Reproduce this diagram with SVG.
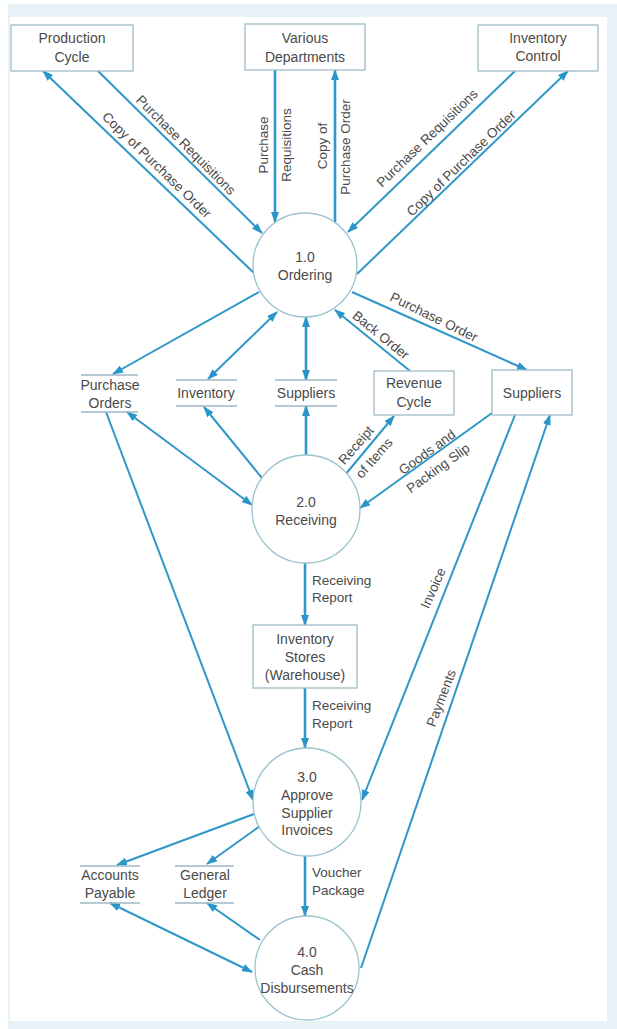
<svg xmlns="http://www.w3.org/2000/svg" width="617" height="1029" viewBox="0 0 617 1029">
<style>
text{font-family:"Liberation Sans","DejaVu Sans",sans-serif;font-size:14px;fill:#4a4a4a;text-anchor:middle}
.lbl{font-size:13.5px}
.st{text-anchor:start}
.box{fill:#fff;stroke:#9fbcc8;stroke-width:1.3}
.circ{fill:#fff;stroke:#9cc3cf;stroke-width:1.3}
.ds{stroke:#9fb8c4;stroke-width:1.3}
.c{stroke:#2f97c8;stroke-width:2;fill:none;marker-end:url(#ah)}
.v{stroke-width:2.6}
.b{marker-start:url(#ah)}
</style>
<defs>
<marker id="ah" markerUnits="userSpaceOnUse" markerWidth="11" markerHeight="8" refX="10" refY="4" orient="auto-start-reverse">
<path d="M0,0 L11,4 L0,8 z" fill="#2a95c8"/>
</marker>
</defs>
<rect x="8" y="4" width="609" height="1025" fill="#e8f3f8"/>
<rect x="10" y="17" width="597" height="1004" fill="#fff"/>

<g id="connectors">
<line class="c" x1="97" y1="70" x2="262" y2="233"/>
<line class="c" x1="255" y1="274" x2="43" y2="71"/>
<line class="c v" x1="275" y1="70" x2="275" y2="222"/>
<line class="c v" x1="335" y1="222" x2="335" y2="70"/>
<line class="c" x1="515" y1="71" x2="348" y2="232"/>
<line class="c" x1="357" y1="274" x2="568" y2="71"/>
<line class="c" x1="352" y1="292" x2="527" y2="370"/>
<line class="c" x1="410" y1="371" x2="335" y2="310"/>
<line class="c" x1="259" y1="292" x2="113" y2="374"/>
<line class="c b" x1="277" y1="312" x2="208" y2="379"/>
<line class="c v b" x1="306" y1="317" x2="306" y2="380"/>
<line class="c b" x1="127" y1="412" x2="252" y2="505"/>
<line class="c" x1="262" y1="478" x2="204" y2="407"/>
<line class="c v" x1="306" y1="455" x2="306" y2="406"/>
<line class="c" x1="345" y1="475" x2="394" y2="416"/>
<line class="c" x1="492" y1="413" x2="360" y2="508"/>
<line class="c v" x1="305" y1="563" x2="305" y2="625"/>
<line class="c v" x1="305" y1="688" x2="305" y2="748"/>
<line class="c" x1="106" y1="412" x2="253" y2="800"/>
<line class="c" x1="515" y1="415" x2="362" y2="800"/>
<line class="c" x1="361" y1="968" x2="550" y2="415"/>
<line class="c v" x1="305" y1="856" x2="305" y2="916"/>
<line class="c" x1="254" y1="814" x2="117" y2="865"/>
<line class="c" x1="260" y1="826" x2="207" y2="864"/>
<line class="c" x1="260" y1="940" x2="207" y2="903"/>
<line class="c b" x1="110" y1="903" x2="252" y2="972"/>
</g>

<g id="labels">
<text class="lbl" transform="translate(186,145) rotate(45)" dy="0.35em">Purchase Requisitions</text>
<text class="lbl" transform="translate(157,165) rotate(44)" dy="0.35em">Copy of Purchase Order</text>
<text class="lbl" transform="translate(263,145) rotate(-90)" dy="0.35em">Purchase</text>
<text class="lbl" transform="translate(286,145) rotate(-90)" dy="0.35em">Requisitions</text>
<text class="lbl" transform="translate(322,146) rotate(-90)" dy="0.35em">Copy of</text>
<text class="lbl" transform="translate(345,147) rotate(-90)" dy="0.35em">Purchase Order</text>
<text class="lbl" transform="translate(427,138) rotate(-44)" dy="0.35em">Purchase Requisitions</text>
<text class="lbl" transform="translate(461,163) rotate(-44)" dy="0.35em">Copy of Purchase Order</text>
<text class="lbl" transform="translate(434,317) rotate(26)" dy="0.35em">Purchase Order</text>
<text class="lbl" transform="translate(381,335) rotate(39)" dy="0.35em">Back Order</text>
<text class="lbl" transform="translate(356,445) rotate(-49)" dy="0.35em">Receipt</text>
<text class="lbl" transform="translate(374,458) rotate(-49)" dy="0.35em">of Items</text>
<text class="lbl" transform="translate(427,452) rotate(-36)" dy="0.35em">Goods and</text>
<text class="lbl" transform="translate(438,468) rotate(-36)" dy="0.35em">Packing Slip</text>
<text class="lbl" transform="translate(433,588) rotate(-66)" dy="0.35em">Invoice</text>
<text class="lbl" transform="translate(441,698) rotate(-69)" dy="0.35em">Payments</text>
<text class="lbl st" x="312" y="585">Receiving</text>
<text class="lbl st" x="312" y="602">Report</text>
<text class="lbl st" x="312" y="710">Receiving</text>
<text class="lbl st" x="312" y="728">Report</text>
<text class="lbl st" x="312" y="877">Voucher</text>
<text class="lbl st" x="312" y="895">Package</text>
</g>

<g id="production-cycle">
<rect class="box" x="11" y="25" width="122" height="46"/>
<text x="72" y="43">Production</text>
<text x="72" y="62">Cycle</text>
</g>
<g id="various-departments">
<rect class="box" x="245" y="24" width="120" height="46"/>
<text x="305" y="43">Various</text>
<text x="305" y="62">Departments</text>
</g>
<g id="inventory-control">
<rect class="box" x="478" y="25" width="120" height="46"/>
<text x="538" y="43">Inventory</text>
<text x="538" y="61">Control</text>
</g>

<g id="p1-ordering">
<circle class="circ" cx="305" cy="265" r="52"/>
<text x="305" y="262">1.0</text>
<text x="305" y="280">Ordering</text>
</g>

<g id="store-purchase-orders">
<line class="ds" x1="81" y1="375" x2="138" y2="375"/>
<line class="ds" x1="81" y1="412" x2="138" y2="412"/>
<text x="110" y="390">Purchase</text>
<text x="110" y="408">Orders</text>
</g>
<g id="store-inventory">
<line class="ds" x1="176" y1="380" x2="237" y2="380"/>
<line class="ds" x1="176" y1="406" x2="237" y2="406"/>
<text x="206" y="398">Inventory</text>
</g>
<g id="store-suppliers">
<line class="ds" x1="275" y1="380" x2="337" y2="380"/>
<line class="ds" x1="275" y1="406" x2="337" y2="406"/>
<text x="306" y="398">Suppliers</text>
</g>
<g id="revenue-cycle">
<rect class="box" x="374" y="371" width="80" height="44"/>
<text x="414" y="388">Revenue</text>
<text x="414" y="407">Cycle</text>
</g>
<g id="suppliers">
<rect class="box" x="492" y="370" width="80" height="45"/>
<text x="532" y="398">Suppliers</text>
</g>

<g id="p2-receiving">
<circle class="circ" cx="306" cy="509" r="54"/>
<text x="306" y="507">2.0</text>
<text x="306" y="525">Receiving</text>
</g>

<g id="inventory-stores">
<rect class="box" x="253" y="625" width="104" height="63"/>
<text x="305" y="644">Inventory</text>
<text x="305" y="662">Stores</text>
<text x="305" y="680">(Warehouse)</text>
</g>

<g id="p3-approve">
<circle class="circ" cx="307" cy="802" r="54"/>
<text x="307" y="782">3.0</text>
<text x="307" y="800">Approve</text>
<text x="307" y="818">Supplier</text>
<text x="307" y="835">Invoices</text>
</g>

<g id="store-accounts-payable">
<line class="ds" x1="80" y1="866" x2="140" y2="866"/>
<line class="ds" x1="80" y1="903" x2="140" y2="903"/>
<text x="110" y="880">Accounts</text>
<text x="110" y="898">Payable</text>
</g>
<g id="store-general-ledger">
<line class="ds" x1="175" y1="866" x2="234" y2="866"/>
<line class="ds" x1="175" y1="903" x2="234" y2="903"/>
<text x="205" y="880">General</text>
<text x="205" y="898">Ledger</text>
</g>

<g id="p4-cash">
<circle class="circ" cx="307" cy="968" r="52"/>
<text x="307" y="957">4.0</text>
<text x="307" y="975">Cash</text>
<text x="307" y="993">Disbursements</text>
</g>
</svg>
